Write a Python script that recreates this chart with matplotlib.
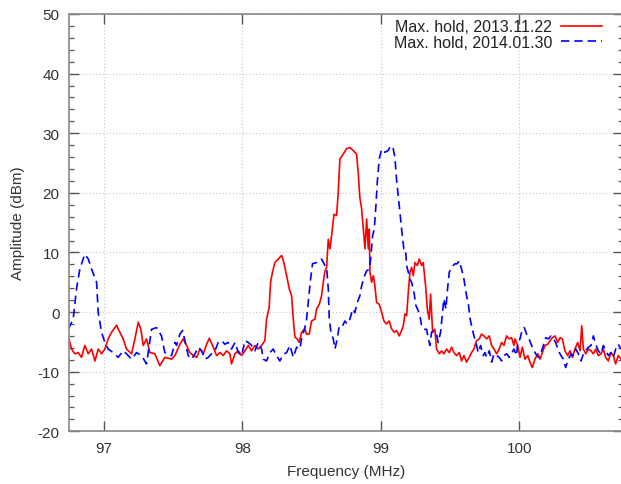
import matplotlib
matplotlib.use("Agg")
import matplotlib.pyplot as plt
from matplotlib.ticker import MultipleLocator

plt.rcParams['font.family'] = ['Liberation Sans', 'DejaVu Sans']
plt.rcParams['axes.unicode_minus'] = False

# ---- data ----
freq_2013 = [96.742, 96.766, 96.790, 96.814, 96.838, 96.862, 96.887, 96.911, 96.935, 96.959,
             96.983, 97.007, 97.031, 97.055, 97.091, 97.115, 97.139, 97.163, 97.200, 97.224,
             97.248, 97.267, 97.284, 97.308, 97.332, 97.368, 97.404, 97.440, 97.489, 97.513,
             97.549, 97.573, 97.597, 97.621, 97.646, 97.670, 97.694, 97.718, 97.742, 97.761,
             97.785, 97.814, 97.838, 97.862, 97.886, 97.910, 97.922, 97.947, 97.971, 97.995,
             98.019, 98.043, 98.067, 98.091, 98.115, 98.139, 98.163, 98.175, 98.194, 98.204,
             98.218, 98.235, 98.259, 98.284, 98.300, 98.320, 98.339, 98.356, 98.368, 98.380,
             98.397, 98.411, 98.428, 98.452, 98.464, 98.483, 98.500, 98.524, 98.536, 98.556,
             98.572, 98.585, 98.597, 98.609, 98.621, 98.633, 98.645, 98.662, 98.681, 98.693,
             98.705, 98.729, 98.753, 98.777, 98.801, 98.825, 98.837, 98.849, 98.862, 98.874,
             98.886, 98.898, 98.910, 98.917, 98.922, 98.934, 98.946, 98.958, 98.970, 98.989,
             99.006, 99.023, 99.042, 99.061, 99.078, 99.097, 99.114, 99.134, 99.150, 99.163,
             99.175, 99.187, 99.199, 99.211, 99.223, 99.235, 99.247, 99.264, 99.278, 99.295,
             99.307, 99.326, 99.336, 99.350, 99.360, 99.375, 99.391, 99.403, 99.423, 99.440,
             99.456, 99.476, 99.495, 99.512, 99.529, 99.548, 99.567, 99.584, 99.601, 99.620,
             99.639, 99.656, 99.673, 99.692, 99.712, 99.728, 99.745, 99.765, 99.784, 99.801,
             99.818, 99.837, 99.856, 99.873, 99.890, 99.909, 99.928, 99.945, 99.962, 99.970,
             99.989, 100.006, 100.023, 100.042, 100.062, 100.078, 100.095, 100.114, 100.134, 100.151,
             100.167, 100.187, 100.206, 100.223, 100.240, 100.259, 100.278, 100.295, 100.312, 100.331,
             100.350, 100.367, 100.384, 100.403, 100.423, 100.440, 100.452, 100.464, 100.481, 100.500,
             100.519, 100.536, 100.553, 100.572, 100.591, 100.608, 100.625, 100.644, 100.663, 100.680,
             100.697, 100.716, 100.736]
amp_2013 = [-4.0, -6.2, -7.0, -6.8, -7.6, -5.6, -7.0, -6.2, -8.2, -6.2,
            -7.0, -6.2, -4.5, -3.4, -2.2, -3.4, -4.5, -6.2, -7.0, -4.5,
            -1.7, -2.9, -5.6, -4.5, -6.8, -7.0, -9.0, -7.6, -7.9, -7.3,
            -5.4, -4.5, -5.6, -6.8, -7.3, -7.6, -6.2, -7.0, -5.4, -4.4,
            -5.6, -7.3, -6.8, -7.3, -6.5, -7.0, -8.7, -7.0, -6.5, -7.3,
            -6.5, -5.6, -6.5, -5.6, -6.2, -5.6, -4.8, -1.2, 0.8, 5.0,
            6.7, 8.3, 8.9, 9.5, 8.3, 6.1, 3.9, 2.7, -1.2, -4.2,
            -4.5, -5.1, -3.4, -2.8, -3.7, -3.7, -1.5, -1.2, 0.5, 1.3,
            2.7, 5.0, 6.9, 7.5, 12.2, 10.6, 12.8, 16.4, 16.2, 20.1,
            25.7, 26.5, 27.4, 27.6, 27.1, 26.5, 23.4, 19.2, 17.3, 13.9,
            10.6, 15.6, 10.6, 13.9, 6.7, 5.0, 6.1, 4.4, 1.6, 1.3,
            0.0, -1.5, -2.0, -1.5, -2.8, -3.4, -3.1, -4.0, -3.1, -2.3,
            -0.3, -0.6, 3.3, 6.7, 7.5, 6.1, 8.3, 7.8, 8.9, 7.8,
            8.3, 3.9, 0.5, -1.2, 3.0, -3.4, -2.9, -6.2, -7.0, -6.5,
            -7.0, -6.2, -6.8, -5.9, -6.8, -7.3, -6.8, -8.2, -7.3, -8.4,
            -7.6, -6.8, -6.2, -4.8, -4.5, -3.7, -4.0, -4.5, -4.0, -5.6,
            -6.2, -7.0, -6.2, -5.1, -5.6, -4.0, -4.5, -4.3, -5.6, -4.5,
            -5.6, -7.6, -5.9, -7.9, -7.3, -8.4, -9.3, -7.9, -7.0, -7.9,
            -6.8, -5.6, -5.4, -4.8, -4.3, -4.0, -5.1, -4.3, -4.5, -6.5,
            -7.3, -6.5, -7.6, -6.2, -5.1, -6.5, -2.3, -6.2, -7.0, -6.2,
            -6.5, -7.0, -6.2, -7.3, -7.0, -6.2, -7.6, -8.2, -6.8, -7.3,
            -8.7, -7.3, -7.9]

freq_2014 = [96.742, 96.778, 96.802, 96.826, 96.862, 96.887, 96.911, 96.947, 96.959, 96.983,
             97.007, 97.031, 97.067, 97.103, 97.139, 97.163, 97.200, 97.236, 97.272, 97.308,
             97.344, 97.380, 97.416, 97.440, 97.489, 97.513, 97.525, 97.549, 97.569, 97.585,
             97.609, 97.634, 97.658, 97.682, 97.706, 97.730, 97.754, 97.778, 97.802, 97.826,
             97.850, 97.874, 97.898, 97.922, 97.947, 97.971, 97.995, 98.019, 98.043, 98.067,
             98.091, 98.115, 98.139, 98.151, 98.175, 98.199, 98.223, 98.247, 98.271, 98.296,
             98.320, 98.344, 98.368, 98.392, 98.416, 98.428, 98.452, 98.464, 98.476, 98.493,
             98.507, 98.536, 98.556, 98.572, 98.597, 98.609, 98.621, 98.628, 98.640, 98.657,
             98.669, 98.686, 98.700, 98.724, 98.741, 98.758, 98.777, 98.797, 98.813, 98.830,
             98.849, 98.862, 98.878, 98.898, 98.917, 98.927, 98.941, 98.953, 98.965, 98.975,
             98.989, 99.006, 99.030, 99.054, 99.071, 99.090, 99.102, 99.114, 99.134, 99.146,
             99.158, 99.167, 99.179, 99.187, 99.199, 99.211, 99.223, 99.240, 99.254, 99.271,
             99.283, 99.295, 99.312, 99.331, 99.343, 99.355, 99.367, 99.384, 99.403, 99.415,
             99.432, 99.447, 99.456, 99.471, 99.480, 99.495, 99.512, 99.536, 99.553, 99.567,
             99.584, 99.601, 99.620, 99.632, 99.644, 99.656, 99.673, 99.688, 99.704, 99.721,
             99.741, 99.753, 99.765, 99.784, 99.801, 99.818, 99.837, 99.856, 99.873, 99.890,
             99.909, 99.928, 99.945, 99.962, 99.981, 99.989, 100.006, 100.023, 100.037, 100.054,
             100.071, 100.086, 100.102, 100.119, 100.139, 100.158, 100.175, 100.192, 100.211, 100.230,
             100.247, 100.264, 100.283, 100.302, 100.319, 100.336, 100.355, 100.375, 100.391, 100.408,
             100.428, 100.447, 100.464, 100.481, 100.500, 100.519, 100.536, 100.553, 100.572, 100.591,
             100.608, 100.625, 100.644, 100.663, 100.680, 100.697, 100.716, 100.736]
amp_2014 = [-2.9, -1.2, 3.9, 7.2, 9.7, 8.9, 7.2, 5.0, -0.1, -3.4,
            -5.1, -6.2, -6.8, -7.6, -6.5, -7.0, -7.9, -6.8, -7.3, -8.7,
            -2.9, -2.6, -4.0, -6.8, -7.3, -5.1, -5.6, -3.7, -3.1, -4.8,
            -7.3, -7.9, -7.0, -5.9, -6.5, -7.9, -7.6, -7.0, -6.5, -5.1,
            -4.8, -5.4, -5.1, -6.2, -5.1, -6.8, -7.3, -4.8, -5.1, -5.6,
            -6.5, -5.1, -6.2, -7.9, -8.2, -6.8, -6.2, -7.3, -8.2, -7.1,
            -6.8, -5.6, -7.6, -5.9, -6.2, -4.5, -2.6, -1.2, 1.6, 5.5,
            8.1, 8.3, 8.6, 8.9, 7.8, 7.5, 3.9, -1.2, -3.4, -4.5,
            -6.2, -4.5, -2.3, -2.3, -1.5, -2.0, -1.2, 0.5, -0.1, 1.6,
            2.7, 4.4, 5.8, 6.9, 7.2, 8.9, 12.8, 13.9, 17.8, 21.8,
            25.7, 27.3, 26.8, 27.1, 27.9, 27.4, 26.0, 22.3, 17.8, 15.0,
            12.3, 10.6, 10.6, 7.8, 6.7, 5.5, 5.0, 3.3, 1.1, 0.2,
            -0.6, -2.3, -2.9, -2.9, -4.3, -5.6, -3.4, -3.1, -3.7, -5.1,
            -3.4, 0.0, 2.2, 0.5, 3.3, 6.7, 7.5, 8.1, 8.1, 8.6,
            7.2, 5.5, 2.7, 1.6, -0.9, -2.3, -4.0, -5.1, -6.8, -5.6,
            -7.3, -6.8, -7.6, -6.5, -8.4, -7.0, -7.3, -7.6, -8.2, -7.3,
            -7.0, -7.6, -7.0, -6.2, -7.3, -5.1, -4.5, -2.9, -2.6, -3.7,
            -4.5, -5.4, -6.2, -7.0, -7.6, -6.8, -5.6, -4.3, -4.5, -4.0,
            -4.5, -5.1, -6.5, -7.3, -7.9, -9.3, -7.9, -7.0, -7.3, -6.2,
            -7.0, -8.2, -7.0, -6.5, -5.9, -5.6, -4.0, -5.4, -6.5, -7.0,
            -5.6, -6.5, -7.3, -6.8, -7.6, -6.2, -5.4, -6.2]

labels = ["Max. hold, 2013.11.22", "Max. hold, 2014.01.30"]
x_ticks = [97, 98, 99, 100]
y_ticks = [-20, -10, 0, 10, 20, 30, 40, 50]

# ---- figure ----
fig = plt.figure(figsize=(6.21, 4.85), dpi=100)
ax = fig.add_axes([0.1116, 0.1087, 0.8916, 0.8604])

ax.plot(freq_2013, amp_2013, color='#ff0000', lw=1.2, label=labels[0])
ax.plot(freq_2014, amp_2014, color='#0000ff', lw=1.2, dashes=(5, 3), label=labels[1])

ax.set_xlim(96.75, 100.75)
ax.set_ylim(-20, 50)
ax.set_xticks(x_ticks)
ax.set_yticks(y_ticks)
ax.yaxis.set_minor_locator(MultipleLocator(2))

ax.grid(True, which='major', color='#c8c8c8', linestyle=(0, (1, 2)), lw=0.8)
for s in ax.spines.values():
    s.set_color('#888888')
    s.set_linewidth(1.2)

ax.tick_params(which='major', direction='in', length=7, width=1.0, color='#555555',
               top=True, right=True, labelsize=11, labelcolor='#333333', pad=7)
ax.tick_params(which='minor', direction='in', length=3.5, width=0.9, color='#555555',
               left=True, right=True)

ax.set_xlabel("Frequency (MHz)", fontsize=11, color='#333333', labelpad=6.5)
ax.set_ylabel("Amplitude (dBm)", fontsize=11, color='#333333', labelpad=9)

leg = ax.legend(loc='upper right', bbox_to_anchor=(613.5 / 621, 1 - 9 / 485),
                bbox_transform=fig.transFigure, frameon=False, markerfirst=False,
                handlelength=2.6, fontsize=11.5, labelspacing=0.05, borderpad=0.2,
                handletextpad=0.55)
for t in leg.get_texts():
    t.set_color('#222222')

fig.savefig("out.png", dpi=100)
